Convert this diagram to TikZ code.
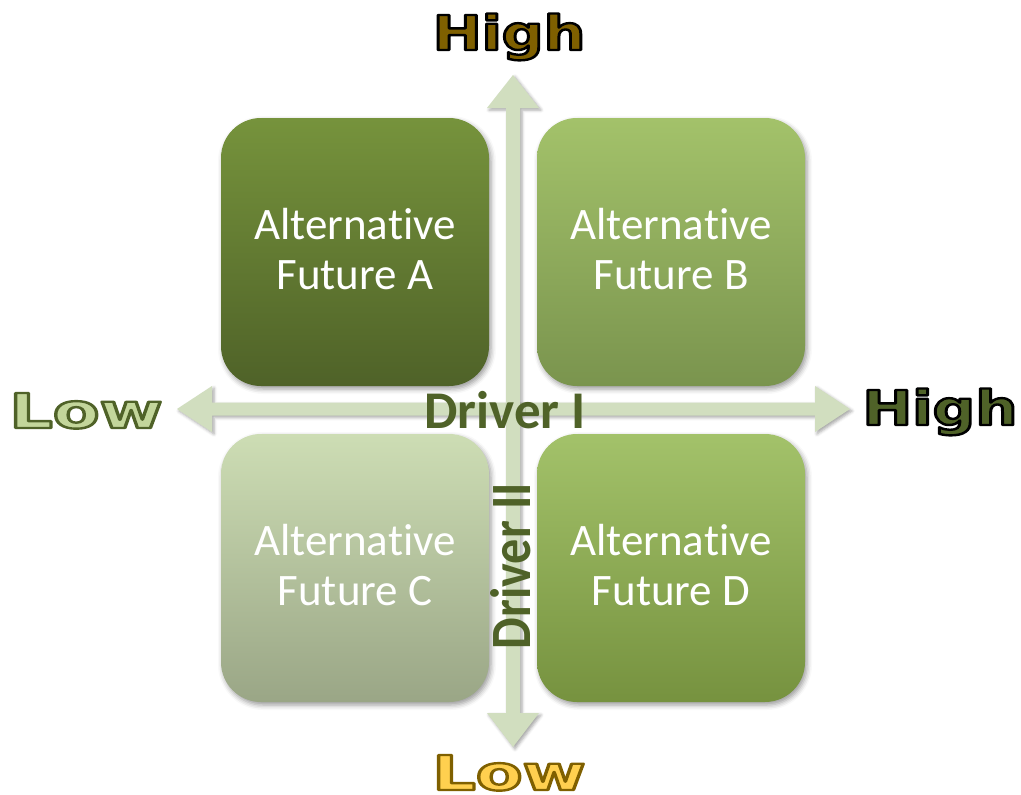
\documentclass[tikz,border=0pt]{standalone}
\usepackage{fontspec}
\setmainfont{Carlito}[Ligatures=NoCommon]
\newfontfamily\wordart{DejaVu Sans}
\usetikzlibrary{shadows.blur,calc}
\definecolor{arrowgreen}{HTML}{D1DEBF}
\definecolor{darkolive}{HTML}{4F6228}
\definecolor{highbrown}{HTML}{7F6000}
\definecolor{lowgreen}{HTML}{C3D69B}
\definecolor{lowgold}{HTML}{FFD04F}
\definecolor{aTop}{HTML}{76933C}
\definecolor{aBot}{HTML}{4F6228}
\definecolor{bTop}{HTML}{A3C26A}
\definecolor{bBot}{HTML}{7A944E}
\definecolor{cTop}{HTML}{CDDDB4}
\definecolor{cBot}{HTML}{9AA686}
\definecolor{dTop}{HTML}{A3C26A}
\definecolor{dBot}{HTML}{76923F}
% outlined text: fill in current colour, stroke with given RGB
\newcommand{\outlinedword}[2]{%
  \special{pdf:literal direct q 2 Tr 2.4 w 1 j #1 RG}#2\special{pdf:literal direct Q}}
\tikzset{
  futurebox/.style={rounded corners=40pt, minimum width=268pt, minimum height=268pt,
    inner sep=0pt,
    blur shadow={shadow xshift=2pt, shadow yshift=-3pt, shadow blur radius=5pt, shadow opacity=40}},
  boxtext/.style={text=white, align=center, inner sep=0pt, font=\fontsize{45}{50}\selectfont},
  axisshape/.style={fill=arrowgreen,
    blur shadow={shadow xshift=2pt, shadow yshift=-2pt, shadow blur radius=3pt, shadow opacity=35}},
  drivertext/.style={text=darkolive, font=\bfseries\fontsize{53}{53}\selectfont, inner sep=0pt},
  wordlabel/.style={inner sep=0pt, anchor=base, font=\wordart\bfseries\fontsize{48}{48}\selectfont}
}
\begin{document}
\begin{tikzpicture}[x=1pt,y=-1pt]
\useasboundingbox (0,0) rectangle (1021,795);

% boxes
\node[futurebox, top color=aTop, bottom color=aBot] (A) at (355,252) {};
\node[futurebox, top color=bTop, bottom color=bBot] (B) at (671,252) {};
\node[futurebox, top color=cTop, bottom color=cBot] (C) at (355,568) {};
\node[futurebox, top color=dTop, bottom color=dBot] (D) at (671,568) {};
\node[boxtext] (At) at ($(A)+(0,-3)$) {Alternative\\Future A};
\node[boxtext] (Bt) at ($(B)+(0,-3)$) {Alternative\\Future B};
\node[boxtext] (Ct) at ($(C)+(0,-3)$) {Alternative\\Future C};
\node[boxtext] (Dt) at ($(D)+(0,-3)$) {Alternative\\Future D};

% horizontal axis
\coordinate (hl) at (177,409);
\coordinate (hr) at (850,409);
\fill[axisshape] (hl) -- ++(35,-23) -- ++(0,16.5) -- ($(hr)+(-35,-6.5)$) -- ++(0,-16.5) -- (hr)
  -- ++(-35,23) -- ++(0,-16.5) -- ($(hl)+(35,6.5)$) -- ++(0,16.5) -- cycle;

% vertical axis
\coordinate (vt) at (513,75);
\coordinate (vb) at (513,747);
\fill[axisshape] (vt) -- ++(26,33) -- ++(-19,0) -- ($(vb)+(7,-34)$) -- ++(19,0) -- (vb)
  -- ++(-26,-34) -- ++(19,0) -- ($(vt)+(-7,33)$) -- ++(-19,0) -- cycle;

% driver labels
\node[drivertext, anchor=base] (d1) at (505,428) {Driver I};
\node[drivertext, anchor=base, rotate=90] (d2) at (530,566)
  {\scalebox{0.88}[1]{\fontsize{57}{57}\selectfont Driver II}};

% end labels
\node[wordlabel] (tophigh) at (509,50) {\scalebox{1.22}[1]{\color{highbrown}\outlinedword{0 0 0}{High}}};
\node[wordlabel] (righthigh) at (940,425) {\scalebox{1.24}[1]{\color{darkolive}\outlinedword{0 0 0}{High}}};
\node[wordlabel] (leftlow) at (86,428) {\scalebox{1.42}[1]{\color{lowgreen}\outlinedword{0.31 0.384 0.157}{Low}}};
\node[wordlabel] (botlow) at (509,790) {\scalebox{1.42}[1]{\color{lowgold}\outlinedword{0.498 0.376 0}{Low}}};
\end{tikzpicture}
\end{document}
